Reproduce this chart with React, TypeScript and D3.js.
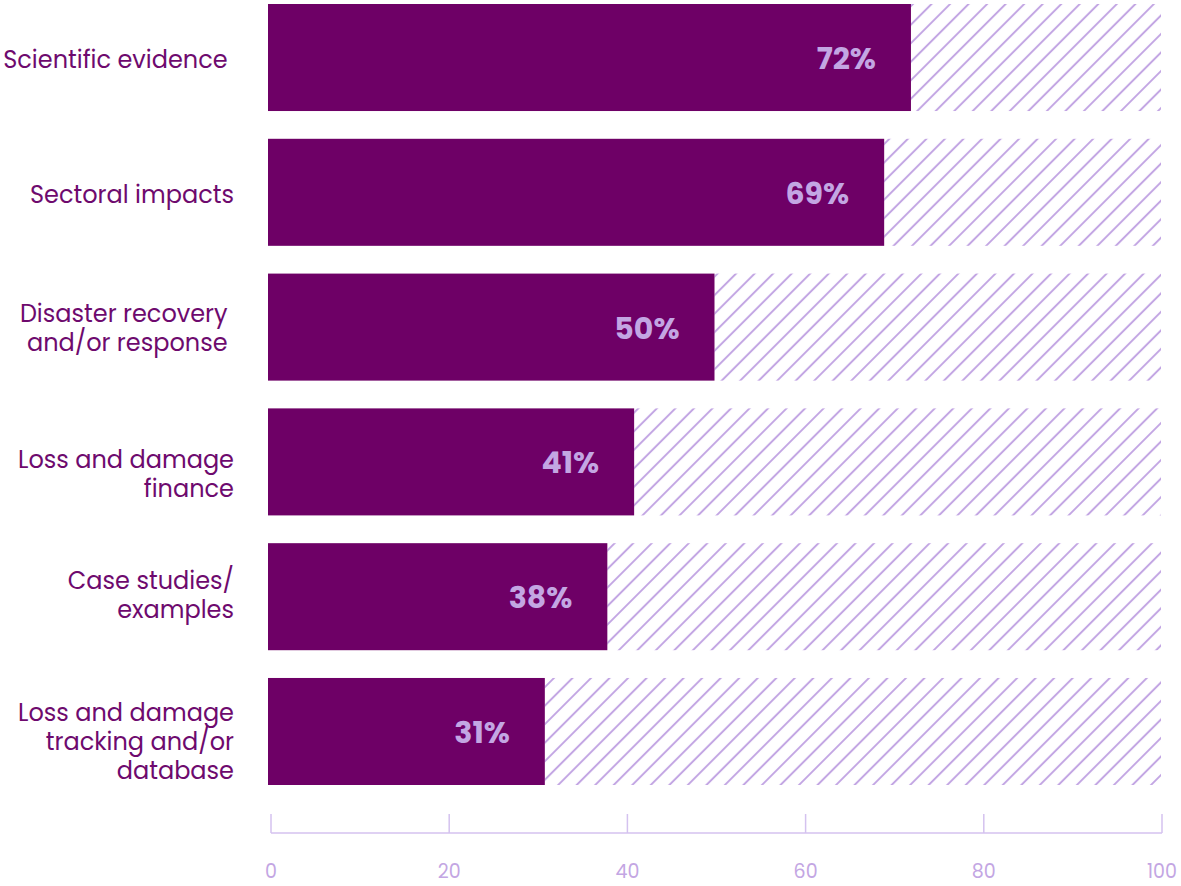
import React, { useEffect, useRef } from "react";
import * as d3 from "d3";

const categories: string[][] = [
  ["Scientific evidence\u00a0"],
  ["Sectoral impacts"],
  ["Disaster recovery\u00a0", "and/or response\u00a0"],
  ["Loss and damage", "finance"],
  ["Case studies/", "examples"],
  ["Loss and damage", "tracking and/or", "database"],
];
const values: number[] = [72, 69, 50, 41, 38, 31];
const tickValues: number[] = [0, 20, 40, 60, 80, 100];

// layout-only: vertical nudge (px) of each category label block
const labelNudge: number[] = [0, 0, -1, 10.5, -4, 8.5];

const W = 1181;
const H = 886;
const BAR = "#6e0066";
const LAV = "#c3a6e3";
const FONT = "Poppins, 'Open Sans', 'Noto Sans', sans-serif";

export default function App() {
  const ref = useRef<SVGSVGElement | null>(null);

  useEffect(() => {
    const svg = d3.select(ref.current);
    svg.selectAll("*").remove();

    const idx = categories.map((_, i) => String(i));
    const x = d3.scaleLinear().domain([0, 100]).range([268, 1161]);
    const xAxisScale = d3.scaleLinear().domain([0, 100]).range([271, 1162]);
    const y = d3.scaleBand<string>().domain(idx).range([4, 785]).paddingInner(0.206).paddingOuter(0);

    const defs = svg.append("defs");
    const step = 13.1;
    const pat = defs
      .append("pattern")
      .attr("id", "hatch")
      .attr("patternUnits", "userSpaceOnUse")
      .attr("width", step)
      .attr("height", step)
      .attr("patternTransform", "rotate(45)");
    pat
      .append("line")
      .attr("x1", step / 2)
      .attr("y1", 0)
      .attr("x2", step / 2)
      .attr("y2", step)
      .attr("stroke", LAV)
      .attr("stroke-width", 2);

    const g = svg.append("g");
    const rows = g
      .selectAll("g.row")
      .data(values)
      .enter()
      .append("g")
      .attr("class", "row");

    rows
      .append("rect")
      .attr("x", (d) => x(d))
      .attr("y", (_, i) => y(String(i))!)
      .attr("width", (d) => x(100) - x(d))
      .attr("height", y.bandwidth())
      .attr("fill", "url(#hatch)");

    rows
      .append("rect")
      .attr("x", x(0))
      .attr("y", (_, i) => y(String(i))!)
      .attr("width", (d) => x(d) - x(0))
      .attr("height", y.bandwidth())
      .attr("fill", BAR);

    rows
      .append("text")
      .attr("x", (d) => x(d) - 35)
      .attr("y", (_, i) => y(String(i))! + y.bandwidth() / 2 + 11.5)
      .attr("text-anchor", "end")
      .attr("font-family", FONT)
      .attr("font-weight", 700)
      .attr("font-size", 30)
      .attr("fill", LAV)
      .text((d) => `${d}%`);

    // category labels
    const lineH = 29;
    categories.forEach((lines, i) => {
      const cy = y(String(i))! + y.bandwidth() / 2 + labelNudge[i];
      const t = g
        .append("text")
        .attr("text-anchor", "end")
        .attr("font-family", FONT)
        .attr("font-size", 24)
        .attr("fill", "#6e0a6e")
        .attr("style", "white-space: pre");
      lines.forEach((ln, j) => {
        t.append("tspan")
          .attr("x", 234)
          .attr("y", cy + (j - (lines.length - 1) / 2) * lineH + 10.5)
          .text(ln);
      });
    });

    // axis
    const axisY = 833;
    const ax = svg.append("g");
    ax.append("line")
      .attr("x1", xAxisScale(0))
      .attr("x2", xAxisScale(100))
      .attr("y1", axisY)
      .attr("y2", axisY)
      .attr("stroke", "#d4c2ef")
      .attr("stroke-width", 1.5);
    ax.selectAll("line.tick")
      .data(tickValues)
      .enter()
      .append("line")
      .attr("class", "tick")
      .attr("x1", (d) => xAxisScale(d))
      .attr("x2", (d) => xAxisScale(d))
      .attr("y1", 814)
      .attr("y2", axisY)
      .attr("stroke", "#d4c2ef")
      .attr("stroke-width", 1.5);
    ax.selectAll("text.tl")
      .data(tickValues)
      .enter()
      .append("text")
      .attr("class", "tl")
      .attr("x", (d) => xAxisScale(d))
      .attr("y", 878)
      .attr("text-anchor", "middle")
      .attr("font-family", FONT)
      .attr("font-size", 19)
      .attr("fill", LAV)
      .text((d) => String(d));
  }, []);

  return (
    <svg
      ref={ref}
      width={W}
      height={H}
      style={{ position: "absolute", left: 0, top: 0, background: "#fff" }}
    />
  );
}
